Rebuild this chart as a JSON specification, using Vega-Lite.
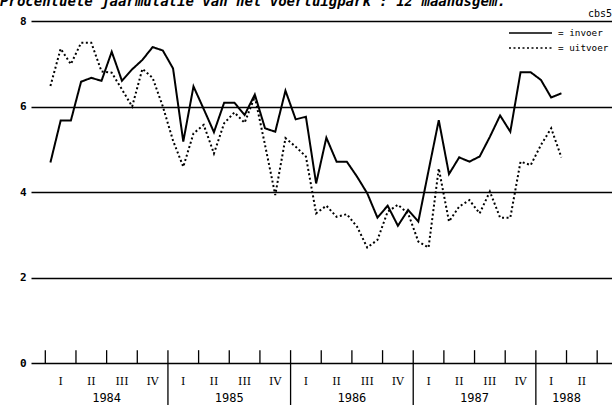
{
  "$schema": "https://vega.github.io/schema/vega-lite/v6.json",
  "width": 581,
  "height": 342,
  "autosize": {"type": "none"},
  "padding": {"left": 31, "top": 21, "right": 0, "bottom": 42},
  "background": "white",
  "config": {"view": {"stroke": null}},
  "datasets": {
    "series": [
      {"t":0.5,"v":4.69,"s":"invoer"},{"t":1.5,"v":5.67,"s":"invoer"},{"t":2.5,"v":5.67,"s":"invoer"},{"t":3.5,"v":6.58,"s":"invoer"},{"t":4.5,"v":6.67,"s":"invoer"},{"t":5.5,"v":6.60,"s":"invoer"},{"t":6.5,"v":7.28,"s":"invoer"},{"t":7.5,"v":6.60,"s":"invoer"},{"t":8.5,"v":6.87,"s":"invoer"},{"t":9.5,"v":7.09,"s":"invoer"},{"t":10.5,"v":7.39,"s":"invoer"},{"t":11.5,"v":7.31,"s":"invoer"},{"t":12.5,"v":6.89,"s":"invoer"},{"t":13.5,"v":5.18,"s":"invoer"},{"t":14.5,"v":6.47,"s":"invoer"},{"t":15.5,"v":5.94,"s":"invoer"},{"t":16.5,"v":5.40,"s":"invoer"},{"t":17.5,"v":6.09,"s":"invoer"},{"t":18.5,"v":6.09,"s":"invoer"},{"t":19.5,"v":5.80,"s":"invoer"},{"t":20.5,"v":6.28,"s":"invoer"},{"t":21.5,"v":5.49,"s":"invoer"},{"t":22.5,"v":5.41,"s":"invoer"},{"t":23.5,"v":6.37,"s":"invoer"},{"t":24.5,"v":5.70,"s":"invoer"},{"t":25.5,"v":5.76,"s":"invoer"},{"t":26.5,"v":4.20,"s":"invoer"},{"t":27.5,"v":5.27,"s":"invoer"},{"t":28.5,"v":4.71,"s":"invoer"},{"t":29.5,"v":4.71,"s":"invoer"},{"t":30.5,"v":4.36,"s":"invoer"},{"t":31.5,"v":3.97,"s":"invoer"},{"t":32.5,"v":3.40,"s":"invoer"},{"t":33.5,"v":3.68,"s":"invoer"},{"t":34.5,"v":3.21,"s":"invoer"},{"t":35.5,"v":3.58,"s":"invoer"},{"t":36.5,"v":3.31,"s":"invoer"},{"t":37.5,"v":4.50,"s":"invoer"},{"t":38.5,"v":5.68,"s":"invoer"},{"t":39.5,"v":4.42,"s":"invoer"},{"t":40.5,"v":4.81,"s":"invoer"},{"t":41.5,"v":4.71,"s":"invoer"},{"t":42.5,"v":4.83,"s":"invoer"},{"t":43.5,"v":5.29,"s":"invoer"},{"t":44.5,"v":5.79,"s":"invoer"},{"t":45.5,"v":5.41,"s":"invoer"},{"t":46.5,"v":6.80,"s":"invoer"},{"t":47.5,"v":6.80,"s":"invoer"},{"t":48.5,"v":6.62,"s":"invoer"},{"t":49.5,"v":6.21,"s":"invoer"},{"t":50.5,"v":6.31,"s":"invoer"},
      {"t":0.5,"v":6.48,"s":"uitvoer"},{"t":1.5,"v":7.35,"s":"uitvoer"},{"t":2.5,"v":6.99,"s":"uitvoer"},{"t":3.5,"v":7.49,"s":"uitvoer"},{"t":4.5,"v":7.49,"s":"uitvoer"},{"t":5.5,"v":6.82,"s":"uitvoer"},{"t":6.5,"v":6.79,"s":"uitvoer"},{"t":7.5,"v":6.40,"s":"uitvoer"},{"t":8.5,"v":6.00,"s":"uitvoer"},{"t":9.5,"v":6.88,"s":"uitvoer"},{"t":10.5,"v":6.67,"s":"uitvoer"},{"t":11.5,"v":6.00,"s":"uitvoer"},{"t":12.5,"v":5.20,"s":"uitvoer"},{"t":13.5,"v":4.59,"s":"uitvoer"},{"t":14.5,"v":5.37,"s":"uitvoer"},{"t":15.5,"v":5.57,"s":"uitvoer"},{"t":16.5,"v":4.90,"s":"uitvoer"},{"t":17.5,"v":5.61,"s":"uitvoer"},{"t":18.5,"v":5.86,"s":"uitvoer"},{"t":19.5,"v":5.62,"s":"uitvoer"},{"t":20.5,"v":6.23,"s":"uitvoer"},{"t":21.5,"v":5.10,"s":"uitvoer"},{"t":22.5,"v":3.93,"s":"uitvoer"},{"t":23.5,"v":5.26,"s":"uitvoer"},{"t":24.5,"v":5.06,"s":"uitvoer"},{"t":25.5,"v":4.83,"s":"uitvoer"},{"t":26.5,"v":3.50,"s":"uitvoer"},{"t":27.5,"v":3.68,"s":"uitvoer"},{"t":28.5,"v":3.42,"s":"uitvoer"},{"t":29.5,"v":3.48,"s":"uitvoer"},{"t":30.5,"v":3.19,"s":"uitvoer"},{"t":31.5,"v":2.70,"s":"uitvoer"},{"t":32.5,"v":2.88,"s":"uitvoer"},{"t":33.5,"v":3.54,"s":"uitvoer"},{"t":34.5,"v":3.70,"s":"uitvoer"},{"t":35.5,"v":3.50,"s":"uitvoer"},{"t":36.5,"v":2.84,"s":"uitvoer"},{"t":37.5,"v":2.70,"s":"uitvoer"},{"t":38.5,"v":4.55,"s":"uitvoer"},{"t":39.5,"v":3.31,"s":"uitvoer"},{"t":40.5,"v":3.66,"s":"uitvoer"},{"t":41.5,"v":3.81,"s":"uitvoer"},{"t":42.5,"v":3.50,"s":"uitvoer"},{"t":43.5,"v":4.01,"s":"uitvoer"},{"t":44.5,"v":3.40,"s":"uitvoer"},{"t":45.5,"v":3.40,"s":"uitvoer"},{"t":46.5,"v":4.71,"s":"uitvoer"},{"t":47.5,"v":4.63,"s":"uitvoer"},{"t":48.5,"v":5.10,"s":"uitvoer"},{"t":49.5,"v":5.49,"s":"uitvoer"},{"t":50.5,"v":4.81,"s":"uitvoer"}
    ],
    "shortTicks": [{"t":0},{"t":3},{"t":6},{"t":9},{"t":15},{"t":18},{"t":21},{"t":27},{"t":30},{"t":33},{"t":39},{"t":42},{"t":45},{"t":51},{"t":54}],
    "yearTicks": [{"t":12},{"t":24},{"t":36},{"t":48}],
    "quarters": [
      {"t":1.5,"q":"I"},{"t":4.5,"q":"II"},{"t":7.5,"q":"III"},{"t":10.5,"q":"IV"},
      {"t":13.5,"q":"I"},{"t":16.5,"q":"II"},{"t":19.5,"q":"III"},{"t":22.5,"q":"IV"},
      {"t":25.5,"q":"I"},{"t":28.5,"q":"II"},{"t":31.5,"q":"III"},{"t":34.5,"q":"IV"},
      {"t":37.5,"q":"I"},{"t":40.5,"q":"II"},{"t":43.5,"q":"III"},{"t":46.5,"q":"IV"},
      {"t":49.5,"q":"I"},{"t":52.5,"q":"II"}
    ],
    "years": [{"t":6,"y":"1984"},{"t":18,"y":"1985"},{"t":30,"y":"1986"},{"t":42,"y":"1987"},{"t":51,"y":"1988"}]
  },
  "layer": [
    {
      "data": {"name": "series"},
      "mark": {"type": "line", "strokeWidth": 2, "strokeCap": "butt"},
      "encoding": {
        "x": {"field": "t", "type": "quantitative", "scale": {"domain": [-1.4, 55.45], "nice": false, "zero": false}, "axis": null},
        "y": {"field": "v", "type": "quantitative", "scale": {"domain": [0, 8], "nice": false, "zero": false},
              "axis": {"values": [0, 2, 4, 6, 8], "grid": true, "gridColor": "black", "gridWidth": 1.3, "gridOpacity": 1, "domain": false, "ticks": false, "title": null, "labelFont": "DejaVu Sans Mono", "labelFontSize": 11, "labelFontWeight": "bold", "labelColor": "black", "labelPadding": 5}},
        "order": {"field": "t", "type": "quantitative"},
        "color": {"field": "s", "type": "nominal", "scale": {"domain": ["invoer", "uitvoer"], "range": ["black", "black"]},
                  "legend": {"orient": "none", "legendX": 493.5, "legendY": 6, "title": null, "symbolType": "M-4.3,0H4.3", "symbolSize": 100, "symbolStrokeWidth": 1.6, "labelExpr": "'= ' + datum.label", "labelFont": "DejaVu Sans Mono", "labelFontSize": 9.3, "labelColor": "black", "rowPadding": 3, "labelOffset": 21.5}},
        "strokeDash": {"field": "s", "type": "nominal", "scale": {"domain": ["invoer", "uitvoer"], "range": [[1, 0], [2, 2.5]]},
                  "legend": {"orient": "none", "legendX": 493.5, "legendY": 6, "title": null, "symbolType": "M-4.3,0H4.3", "symbolSize": 100, "symbolStrokeWidth": 1.6, "labelExpr": "'= ' + datum.label", "labelFont": "DejaVu Sans Mono", "labelFontSize": 9.3, "labelColor": "black", "rowPadding": 3, "labelOffset": 21.5}}
      }
    },
    {
      "data": {"name": "shortTicks"},
      "mark": {"type": "rule", "color": "black", "strokeWidth": 1.3},
      "encoding": {
        "x": {"field": "t", "type": "quantitative"},
        "y": {"datum": 0},
        "y2": {"datum": 0.3}
      }
    },
    {
      "data": {"name": "yearTicks"},
      "mark": {"type": "rule", "color": "black", "strokeWidth": 1.3},
      "encoding": {
        "x": {"field": "t", "type": "quantitative"},
        "y": {"datum": 0.3},
        "y2": {"datum": -1.0}
      }
    },
    {
      "data": {"name": "quarters"},
      "mark": {"type": "text", "font": "DejaVu Serif", "fontSize": 11, "color": "black", "baseline": "middle", "align": "center"},
      "encoding": {
        "x": {"field": "t", "type": "quantitative"},
        "y": {"datum": -0.44},
        "text": {"field": "q"}
      }
    },
    {
      "data": {"name": "years"},
      "mark": {"type": "text", "font": "DejaVu Sans Mono", "fontSize": 12, "color": "black", "baseline": "middle", "align": "center"},
      "encoding": {
        "x": {"field": "t", "type": "quantitative"},
        "y": {"datum": -0.82},
        "text": {"field": "y"}
      }
    },
    {
      "data": {"values": [{}]},
      "mark": {"type": "text", "font": "DejaVu Sans Mono", "fontSize": 10, "color": "black", "baseline": "bottom", "align": "right", "dy": -2},
      "encoding": {
        "x": {"datum": 55.45},
        "y": {"datum": 8},
        "text": {"value": "cbs5"}
      }
    },
    {
      "data": {"values": [{}]},
      "mark": {"type": "text", "font": "DejaVu Sans Mono", "fontSize": 14, "fontStyle": "italic", "fontWeight": "bold", "color": "black", "baseline": "alphabetic", "align": "left"},
      "encoding": {
        "x": {"datum": -4.43},
        "y": {"datum": 8.35},
        "text": {"value": "Procentuele jaarmutatie van het voertuigpark : 12 maandsgem."}
      }
    }
  ]
}
